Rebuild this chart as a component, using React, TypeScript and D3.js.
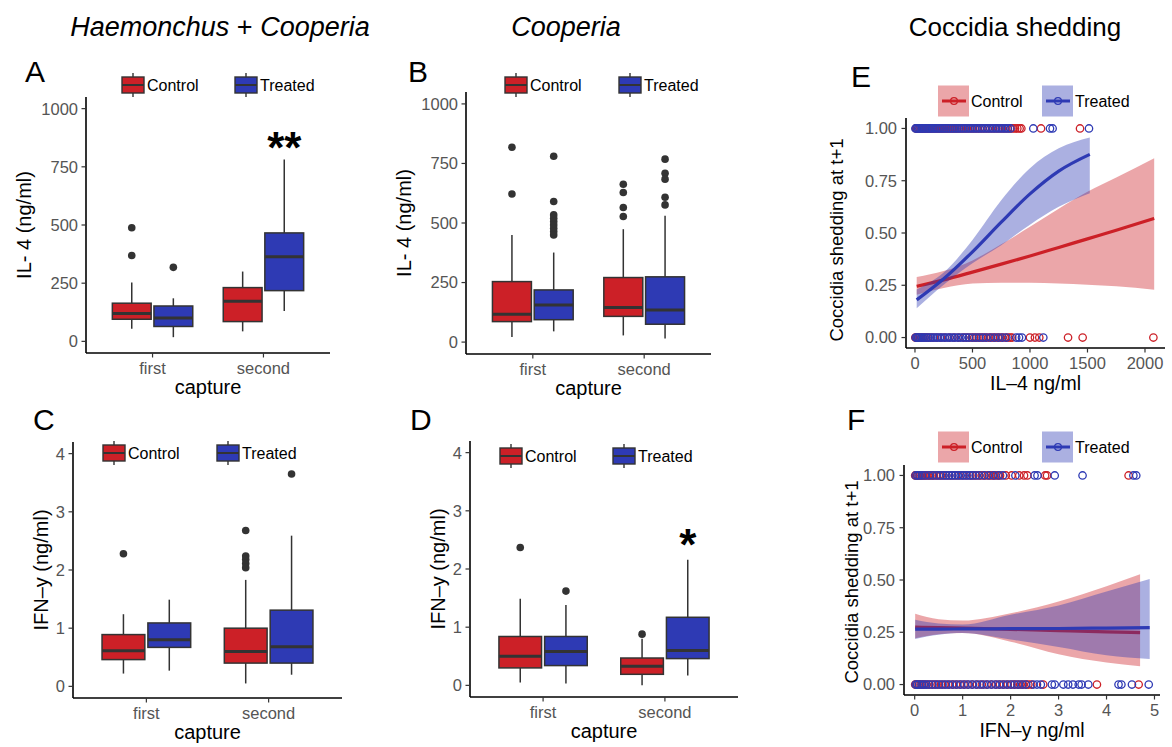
import React from 'react';
import * as d3 from 'd3';

const FONT = "'Liberation Sans', Arial, Helvetica, sans-serif";
const RED = '#cc2027';
const BLUE = '#2e3ab4';
const INK = '#333333';
const TICK_GREY = '#555555';

// box panels
const captures = ['first', 'second'];
const groups = ['Control', 'Treated'];
const il4Ticks = [0, 250, 500, 750, 1000];
const ifnTicks = [0, 1, 2, 3, 4];

// [lower whisker, Q1, median, Q3, upper whisker] for first / second capture
const il4HcControl = [[54, 95, 120, 164, 253], [43, 85, 172, 231, 300]];
const il4HcTreated = [[18, 64, 100, 152, 185], [130, 218, 364, 466, 781]];
const il4HcControlOut = [[488, 369], []];
const il4HcTreatedOut = [[318], []];

const il4CoControl = [[21, 86, 117, 254, 450], [28, 108, 145, 271, 474]];
const il4CoTreated = [[45, 94, 156, 219, 376], [15, 75, 135, 274, 530]];
const il4CoControlOut = [[818, 622], [663, 628, 565, 527]];
const il4CoTreatedOut = [[780, 590, 534, 520, 506, 492, 478, 464, 450], [768, 709, 684, 608, 576]];

const ifnHcControl = [[0.22, 0.46, 0.61, 0.89, 1.24], [0.05, 0.4, 0.6, 1.0, 1.83]];
const ifnHcTreated = [[0.27, 0.67, 0.8, 1.09, 1.49], [0.2, 0.4, 0.68, 1.31, 2.59]];
const ifnHcControlOut = [[2.28], [2.68, 2.24, 2.18, 2.11, 2.04]];
const ifnHcTreatedOut = [[], [3.65]];

const ifnCoControl = [[0.05, 0.3, 0.5, 0.84, 1.49], [0.0, 0.19, 0.33, 0.47, 0.8]];
const ifnCoTreated = [[0.03, 0.34, 0.58, 0.84, 1.38], [0.17, 0.46, 0.6, 1.17, 2.16]];
const ifnCoControlOut = [[2.37], [0.88]];
const ifnCoTreatedOut = [[1.62], []];

// logistic fits, E: IL-4
const eTicksX = [0, 500, 1000, 1500, 2000];
const probTicks = [0, 0.25, 0.5, 0.75, 1];
const eCtrlX = [15, 250, 500, 750, 1000, 1250, 1500, 1750, 2080];
const eCtrlFit = [0.245, 0.276, 0.313, 0.351, 0.39, 0.431, 0.472, 0.513, 0.57];
const eCtrlLo = [0.205, 0.237, 0.258, 0.262, 0.262, 0.258, 0.252, 0.245, 0.228];
const eCtrlHi = [0.29, 0.318, 0.369, 0.446, 0.53, 0.616, 0.697, 0.765, 0.857];
const eTrtX = [15, 250, 500, 750, 1000, 1250, 1520];
const eTrtFit = [0.18, 0.281, 0.41, 0.552, 0.687, 0.796, 0.876];
const eTrtLo = [0.14, 0.252, 0.355, 0.442, 0.54, 0.625, 0.69];
const eTrtHi = [0.23, 0.311, 0.467, 0.657, 0.81, 0.905, 0.957];

const eCtrlShed = [8, 18, 30, 42, 55, 68, 80, 95, 108, 122, 135, 150, 165, 180, 196, 212, 228, 245, 262, 280, 298, 316, 334, 352, 370, 390, 410, 430, 452, 474, 496, 518, 540, 562, 585, 608, 632, 655, 680, 705, 730, 755, 780, 805, 830, 850, 870, 890, 910, 925, 1096, 1435];
const eTrtShed = [4, 14, 26, 38, 50, 62, 75, 88, 101, 115, 128, 142, 157, 172, 188, 204, 220, 237, 254, 272, 290, 308, 326, 345, 364, 383, 402, 422, 442, 462, 482, 503, 524, 545, 566, 588, 610, 632, 654, 676, 698, 720, 742, 764, 786, 808, 830, 1029, 1174, 1197, 1513];
const eCtrlNone = [3, 12, 22, 33, 45, 57, 70, 84, 98, 115, 135, 160, 190, 225, 260, 300, 340, 380, 420, 445, 470, 495, 515, 535, 555, 575, 595, 615, 640, 660, 680, 700, 720, 740, 760, 785, 810, 830, 845, 1000, 1043, 1081, 1331, 1458, 2073];
const eTrtNone = [6, 16, 28, 40, 54, 68, 84, 100, 118, 136, 155, 175, 195, 215, 236, 258, 280, 302, 325, 348, 372, 396, 420, 445, 470, 500, 530, 560, 590, 620, 655, 690, 725, 760, 795, 880, 905, 930, 1116];

// F: IFN-y
const fTicksX = [0, 1, 2, 3, 4, 5];
const fCtrlX = [0.01, 0.5, 1, 2, 3, 4, 4.7];
const fCtrlFit = [0.275, 0.272, 0.27, 0.264, 0.258, 0.252, 0.248];
const fCtrlLo = [0.222, 0.24, 0.246, 0.205, 0.145, 0.105, 0.087];
const fCtrlHi = [0.338, 0.312, 0.306, 0.341, 0.397, 0.47, 0.527];
const fTrtX = [0.01, 0.5, 1, 2, 3, 4, 4.9];
const fTrtFit = [0.265, 0.265, 0.266, 0.267, 0.268, 0.27, 0.272];
const fTrtLo = [0.218, 0.238, 0.246, 0.215, 0.18, 0.14, 0.122];
const fTrtHi = [0.31, 0.292, 0.287, 0.334, 0.378, 0.445, 0.505];

const fCtrlShed = [0.01, 0.03, 0.05, 0.08, 0.11, 0.14, 0.17, 0.2, 0.24, 0.28, 0.32, 0.36, 0.4, 0.45, 0.5, 0.55, 0.6, 0.66, 0.72, 0.78, 0.85, 0.92, 1.0, 1.08, 1.16, 1.22, 1.28, 1.34, 1.4, 1.46, 1.52, 1.58, 1.63, 1.68, 1.73, 1.78, 1.9, 2.02, 2.18, 2.28, 2.35, 2.72, 2.76, 4.46];
const fTrtShed = [0.02, 0.06, 0.1, 0.15, 0.22, 0.3, 0.38, 0.46, 0.53, 0.6, 0.66, 0.72, 0.78, 0.84, 0.9, 0.96, 1.02, 1.08, 1.14, 1.2, 1.27, 1.35, 1.45, 1.55, 1.65, 1.75, 1.84, 2.1, 2.5, 2.56, 2.92, 3.5, 4.56, 4.62];
const fCtrlNone = [0.01, 0.03, 0.06, 0.09, 0.12, 0.16, 0.2, 0.25, 0.3, 0.36, 0.42, 0.48, 0.55, 0.62, 0.7, 0.78, 0.86, 0.94, 1.02, 1.1, 1.2, 1.3, 1.4, 1.5, 1.6, 1.7, 1.78, 1.86, 1.94, 2.02, 2.08, 2.14, 2.2, 2.26, 2.32, 2.37, 2.43, 2.68, 3.8, 4.67];
const fTrtNone = [0.02, 0.05, 0.09, 0.14, 0.19, 0.24, 0.3, 0.37, 0.44, 0.51, 0.58, 0.65, 0.72, 0.8, 0.88, 0.96, 1.04, 1.12, 1.2, 1.28, 1.36, 1.44, 1.52, 1.6, 1.68, 1.76, 1.84, 1.92, 2.0, 2.08, 2.16, 2.24, 2.32, 2.47, 2.55, 2.63, 2.86, 2.92, 3.1, 3.2, 3.3, 3.42, 3.48, 3.62, 4.25, 4.31, 4.53, 4.88];

const fillOf = (g) => (g === 'Control' ? RED : BLUE);

const KeyBox = ({ x, y, fill }) => (
  <g stroke={INK} strokeWidth={1.4}>
    <line x1={x + 11} x2={x + 11} y1={y - 4} y2={y + 20} />
    <rect x={x} y={y} width={22} height={16} fill={fill} />
    <line x1={x} x2={x + 22} y1={y + 8} y2={y + 8} strokeWidth={2} />
  </g>
);

function BoxPanel({ frame, yDomain, yTicks, yTitle, yTitleX, letter, letterPos, control, treated, controlOut, treatedOut, legendX, legendY, star }) {
  const y = d3.scaleLinear().domain(yDomain).range([frame.bottom, frame.top]);
  const x = d3.scalePoint().domain(captures).range([frame.left, frame.right]).padding(0.6);
  const step = x.step();
  const off = step * 0.1875;
  const hw = step * 0.175;
  const series = [
    { g: 'Control', stats: control, out: controlOut, dx: -off },
    { g: 'Treated', stats: treated, out: treatedOut, dx: off },
  ];
  const midY = (frame.top + frame.bottom) / 2;
  return (
    <g fontFamily={FONT}>
      <text x={letterPos[0]} y={letterPos[1]} fontSize={30}>{letter}</text>
      {series.map((s) =>
        captures.map((c, i) => {
          const [lw, q1, md, q3, uw] = s.stats[i];
          const cx = x(c) + s.dx;
          return (
            <g key={s.g + c} stroke={INK}>
              <line x1={cx} x2={cx} y1={y(uw)} y2={y(q3)} strokeWidth={1.5} />
              <line x1={cx} x2={cx} y1={y(q1)} y2={y(lw)} strokeWidth={1.5} />
              <rect x={cx - hw} y={y(q3)} width={hw * 2} height={y(q1) - y(q3)} fill={fillOf(s.g)} strokeWidth={1.5} />
              <line x1={cx - hw} x2={cx + hw} y1={y(md)} y2={y(md)} strokeWidth={3} />
              {s.out[i].map((v, k) => (
                <circle key={k} cx={cx} cy={y(v)} r={3.8} fill={INK} stroke="none" />
              ))}
            </g>
          );
        })
      )}
      {star && (
        <text x={x(star.capture) + off} y={y(star.value)} fontSize={44} fontWeight="bold" textAnchor="middle">{star.text}</text>
      )}
      <line x1={frame.left} x2={frame.left} y1={frame.top} y2={frame.bottom} stroke="#000" strokeWidth={1.6} />
      <line x1={frame.left} x2={frame.right} y1={frame.bottom} y2={frame.bottom} stroke="#000" strokeWidth={1.6} />
      {yTicks.map((t) => (
        <g key={t}>
          <line x1={frame.left - 4.5} x2={frame.left} y1={y(t)} y2={y(t)} stroke={INK} strokeWidth={1.2} />
          <text x={frame.left - 8} y={y(t)} dy="0.36em" textAnchor="end" fontSize={16.5} fill={TICK_GREY}>{t}</text>
        </g>
      ))}
      {captures.map((c) => (
        <g key={c}>
          <line x1={x(c)} x2={x(c)} y1={frame.bottom} y2={frame.bottom + 4.5} stroke={INK} strokeWidth={1.2} />
          <text x={x(c)} y={frame.bottom + 21} textAnchor="middle" fontSize={16.5} fill={TICK_GREY}>{c}</text>
        </g>
      ))}
      <text x={(frame.left + frame.right) / 2} y={frame.bottom + 41} textAnchor="middle" fontSize={20}>capture</text>
      <text transform={`translate(${yTitleX},${midY}) rotate(-90)`} dy="0.36em" textAnchor="middle" fontSize={20}>{yTitle}</text>
      {groups.map((g, i) => (
        <g key={g}>
          <KeyBox x={legendX[i]} y={legendY} fill={fillOf(g)} />
          <text x={legendX[i] + 25} y={legendY + 8} dy="0.36em" fontSize={16}>{g}</text>
        </g>
      ))}
    </g>
  );
}

function SmoothPanel({ frame, xDomain, xTicks, xTitle, yTitle, yTitleX, yTitleY, letter, letterPos, fits, rugs, legendX, legendY }) {
  const x = d3.scaleLinear().domain(xDomain).range([frame.left, frame.right]);
  const y = d3.scaleLinear().domain([-0.05, 1.05]).range([frame.bottom, frame.top]);
  const fmt = d3.format('.2f');
  return (
    <g fontFamily={FONT}>
      <text x={letterPos[0]} y={letterPos[1]} fontSize={30}>{letter}</text>
      {rugs.map((r, i) =>
        r.values.map((v, k) => (
          <circle key={i + '-' + k} cx={x(v)} cy={y(r.level)} r={3.7} fill="none" stroke={fillOf(r.group)} strokeWidth={1.3} />
        ))
      )}
      {fits.map((f) => {
        const pts = f.xs.map((v, k) => ({ x: v, fit: f.fit[k], lo: f.lo[k], hi: f.hi[k] }));
        const area = d3.area().x((d) => x(d.x)).y0((d) => y(d.lo)).y1((d) => y(d.hi)).curve(d3.curveMonotoneX);
        const line = d3.line().x((d) => x(d.x)).y((d) => y(d.fit)).curve(d3.curveMonotoneX);
        return (
          <g key={f.group}>
            <path d={area(pts)} fill={fillOf(f.group)} fillOpacity={0.4} />
            <path d={line(pts)} fill="none" stroke={fillOf(f.group)} strokeWidth={3.2} />
          </g>
        );
      })}
      <line x1={frame.left} x2={frame.left} y1={frame.top} y2={frame.bottom} stroke="#000" strokeWidth={1.6} />
      <line x1={frame.left} x2={frame.right} y1={frame.bottom} y2={frame.bottom} stroke="#000" strokeWidth={1.6} />
      {probTicks.map((t) => (
        <g key={t}>
          <line x1={frame.left - 4.5} x2={frame.left} y1={y(t)} y2={y(t)} stroke={INK} strokeWidth={1.2} />
          <text x={frame.left - 9} y={y(t)} dy="0.36em" textAnchor="end" fontSize={16.5} fill={TICK_GREY}>{fmt(t)}</text>
        </g>
      ))}
      {xTicks.map((t) => (
        <g key={t}>
          <line x1={x(t)} x2={x(t)} y1={frame.bottom} y2={frame.bottom + 4.5} stroke={INK} strokeWidth={1.2} />
          <text x={x(t)} y={frame.bottom + 20.5} textAnchor="middle" fontSize={16.5} fill={TICK_GREY}>{t}</text>
        </g>
      ))}
      <text x={(frame.left + frame.right) / 2} y={frame.bottom + 42} textAnchor="middle" fontSize={19.5}>{xTitle}</text>
      <text transform={`translate(${yTitleX},${yTitleY}) rotate(-90)`} dy="0.36em" textAnchor="middle" fontSize={18.5}>{yTitle}</text>
      {groups.map((g, i) => (
        <g key={g}>
          <rect x={legendX[i]} y={legendY - 15.5} width={31} height={31} fill={fillOf(g)} fillOpacity={0.4} />
          <line x1={legendX[i] + 4} x2={legendX[i] + 28} y1={legendY} y2={legendY} stroke={fillOf(g)} strokeWidth={3} />
          <circle cx={legendX[i] + 16} cy={legendY} r={3.4} fill="none" stroke={fillOf(g)} strokeWidth={1.3} />
          <text x={legendX[i] + 33} y={legendY} dy="0.36em" fontSize={16}>{g}</text>
        </g>
      ))}
    </g>
  );
}

export default function App() {
  return (
    <svg width={1172} height={747} style={{ position: 'absolute', left: 0, top: 0, background: '#fff' }}>
      <g fontFamily={FONT} fontSize={27}>
        <text x={220} y={36} textAnchor="middle">
          <tspan fontStyle="italic">Haemonchus</tspan> + <tspan fontStyle="italic">Cooperia</tspan>
        </text>
        <text x={566} y={36} textAnchor="middle" fontStyle="italic">Cooperia</text>
        <text x={1015} y={36} textAnchor="middle" fontSize={26}>Coccidia shedding</text>
      </g>

      <BoxPanel
        frame={{ left: 86, right: 330, top: 97, bottom: 353 }}
        yDomain={[-50, 1050]} yTicks={il4Ticks} yTitle="IL- 4 (ng/ml)" yTitleX={23.5}
        letter="A" letterPos={[25, 82]}
        control={il4HcControl} treated={il4HcTreated} controlOut={il4HcControlOut} treatedOut={il4HcTreatedOut}
        legendX={[122, 235]} legendY={77}
        star={{ capture: 'second', value: 768, text: '**' }}
      />
      <BoxPanel
        frame={{ left: 466, right: 711, top: 92, bottom: 354 }}
        yDomain={[-50, 1050]} yTicks={il4Ticks} yTitle="IL- 4 (ng/ml)" yTitleX={403.5}
        letter="B" letterPos={[408, 82]}
        control={il4CoControl} treated={il4CoTreated} controlOut={il4CoControlOut} treatedOut={il4CoTreatedOut}
        legendX={[505, 619]} legendY={77}
      />
      <BoxPanel
        frame={{ left: 73, right: 342, top: 442, bottom: 698 }}
        yDomain={[-0.2, 4.2]} yTicks={ifnTicks} yTitle="IFN–y (ng/ml)" yTitleX={41}
        letter="C" letterPos={[33, 430]}
        control={ifnHcControl} treated={ifnHcTreated} controlOut={ifnHcControlOut} treatedOut={ifnHcTreatedOut}
        legendX={[103, 217]} legendY={445}
      />
      <BoxPanel
        frame={{ left: 470, right: 738, top: 441, bottom: 697 }}
        yDomain={[-0.2, 4.2]} yTicks={ifnTicks} yTitle="IFN–y (ng/ml)" yTitleX={437.5}
        letter="D" letterPos={[410, 430]}
        control={ifnCoControl} treated={ifnCoTreated} controlOut={ifnCoControlOut} treatedOut={ifnCoTreatedOut}
        legendX={[500, 613]} legendY={448}
        star={{ capture: 'second', value: 2.15, text: '*' }}
      />

      <SmoothPanel
        frame={{ left: 906, right: 1165, top: 118, bottom: 348 }}
        xDomain={[-78, 2174]} xTicks={eTicksX} xTitle="IL–4 ng/ml"
        yTitle="Coccidia shedding at t+1" yTitleX={836} yTitleY={240}
        letter="E" letterPos={[851, 87]}
        fits={[
          { group: 'Control', xs: eCtrlX, fit: eCtrlFit, lo: eCtrlLo, hi: eCtrlHi },
          { group: 'Treated', xs: eTrtX, fit: eTrtFit, lo: eTrtLo, hi: eTrtHi },
        ]}
        rugs={[
          { group: 'Control', level: 1, values: eCtrlShed },
          { group: 'Treated', level: 1, values: eTrtShed },
          { group: 'Control', level: 0, values: eCtrlNone },
          { group: 'Treated', level: 0, values: eTrtNone },
        ]}
        legendX={[938, 1042]} legendY={101}
      />
      <SmoothPanel
        frame={{ left: 904, right: 1160, top: 465, bottom: 695 }}
        xDomain={[-0.223, 5.115]} xTicks={fTicksX} xTitle="IFN–y ng/ml"
        yTitle="Coccidia shedding at t+1" yTitleX={851.5} yTitleY={582}
        letter="F" letterPos={[847, 430]}
        fits={[
          { group: 'Control', xs: fCtrlX, fit: fCtrlFit, lo: fCtrlLo, hi: fCtrlHi },
          { group: 'Treated', xs: fTrtX, fit: fTrtFit, lo: fTrtLo, hi: fTrtHi },
        ]}
        rugs={[
          { group: 'Control', level: 1, values: fCtrlShed },
          { group: 'Treated', level: 1, values: fTrtShed },
          { group: 'Control', level: 0, values: fCtrlNone },
          { group: 'Treated', level: 0, values: fTrtNone },
        ]}
        legendX={[938, 1042]} legendY={447}
      />
    </svg>
  );
}
